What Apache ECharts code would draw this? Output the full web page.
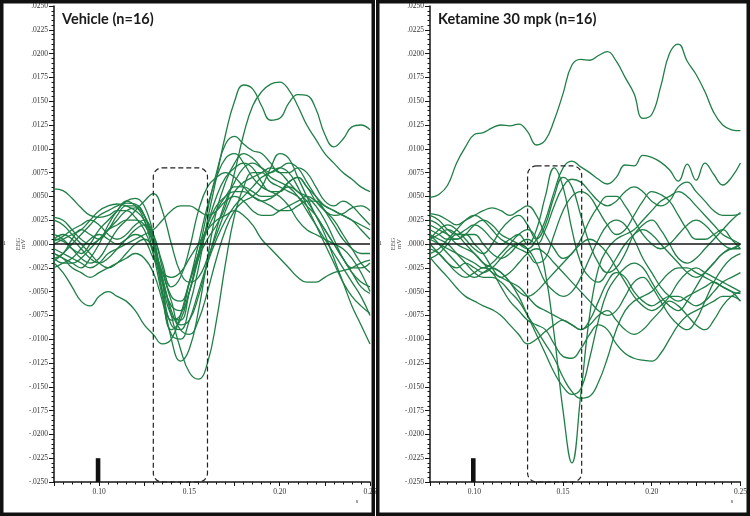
<!DOCTYPE html>
<html><head><meta charset="utf-8">
<script src="https://cdn.jsdelivr.net/npm/echarts@6/dist/echarts.min.js"></script>
<style>html,body{margin:0;padding:0;background:#fff;}#c{width:750px;height:516px;}</style>
</head><body><div id="c"></div>
<script>
// sample times (s)
const xs = [.075,.080,.085,.090,.095,.100,.105,.110,.115,.120,.125,.130,.135,.140,.145,.150,.155,.160,.165,.170,.175,.180,.185,.190,.195,.200,.205,.210,.215,.220,.225,.230,.235,.240,.245,.250];

// Vehicle (n=16) EEG traces (mV)
const vehicle = [
[-.0015,-.001,.0005,.0015,.001,.0005,.0015,.003,.004,.004,.003,0,-.005,-.0085,-.009,-.0065,-.0025,.0025,.007,.0115,.015,.0167,.0163,.0145,.013,.0132,.0148,.0157,.0156,.0142,.0115,.0102,.011,.0123,.0125,.012],
[.0005,.0003,-.0005,-.001,0,.0015,.0025,.0035,.0045,.004,.0025,-.001,-.0055,-.009,-.008,-.005,-.0015,.0005,.002,.004,.0075,.0115,.0145,.016,.0168,.017,.0162,.0145,.0125,.011,.0095,.0085,.0075,.0068,.006,.0055],
[.0028,.0025,.0015,.0005,0,.0005,.0015,.0025,.0035,.0038,.003,.0005,-.004,-.0075,-.008,-.005,-.001,.0035,.0075,.0105,.0113,.0105,.0098,.0095,.0085,.0075,.0075,.008,.0075,.006,.0045,.004,.0045,.004,.003,.002],
[.0058,.0056,.0048,.0038,.003,.0028,.003,.0035,.0035,.0028,.0015,-.001,-.004,-.0065,-.007,-.005,-.0015,.002,.005,.007,.008,.0085,.008,.0065,.0055,.0055,.0065,.007,.006,.0045,.0035,.003,.0032,.0038,.004,.0035],
[.001,.0005,-.0005,-.0015,-.002,-.0015,0,.0015,.0025,.0035,.0045,.0053,.0035,0,-.003,-.004,-.0035,-.0015,.001,.0035,.0055,.0065,.007,.0075,.008,.0075,.0065,.0055,.005,.004,.0025,.0005,-.0015,-.003,-.004,-.0045],
[-.002,-.003,-.0045,-.006,-.0065,-.0055,-.005,-.0055,-.006,-.007,-.0085,-.0095,-.0105,-.01,-.0075,-.004,-.001,.0015,.0035,.005,.006,.006,.0055,.005,.005,.0055,.006,.0055,.0045,.003,.001,-.0015,-.004,-.0065,-.0085,-.0105],
[0,.0005,.001,.0015,.0025,.0035,.004,.0042,.004,.0035,.0025,0,-.0035,-.0075,-.011,-.0135,-.0142,-.0125,-.008,-.002,.003,.006,.0075,.0075,.0065,.006,.0055,.005,.004,.003,.0015,0,-.0015,-.0025,-.0025,-.002],
[-.0018,-.001,0,.001,.002,.003,.0035,.004,.0043,.0042,.003,0,-.005,-.01,-.0123,-.011,-.007,-.0015,.0035,.0065,.0085,.0095,.009,.008,.007,.0065,.006,.005,.0035,.002,.0005,-.001,-.0025,-.004,-.0055,-.0075],
[-.001,-.0015,-.002,-.0025,-.0015,0,.002,.0035,.0045,.0048,.004,.001,-.004,-.008,-.0075,-.004,0,.004,.007,.009,.0095,.0085,.007,.006,.0055,.005,.004,.0025,.0015,.001,.0005,0,-.0005,-.0015,-.003,-.005],
[-.0025,-.002,-.0015,-.0005,.0005,.001,.0005,0,.0005,.001,.0005,-.0015,-.003,-.0035,-.003,-.0015,0,.0015,.0025,.003,.0035,.003,.002,.0005,-.0005,-.0015,-.0025,-.0035,-.004,-.004,-.0035,-.003,-.0028,-.0025,-.002,-.0017],
[.0003,.0008,.0015,.002,.0025,.002,.001,.0005,.001,.002,.0025,.001,-.002,-.0045,-.0035,-.0005,.0035,.006,.007,.0075,.007,.006,.005,.0045,.0048,.0055,.0065,.007,.006,.005,.004,.0035,.003,.0025,.002,.0015],
[-.0005,-.001,-.0015,-.002,-.0025,-.002,-.001,-.0005,0,.0005,.001,.0015,.0025,.0035,.004,.004,.0035,.003,.0035,.0045,.005,.0045,.0035,.003,.003,.0035,.004,.0045,.005,.0045,.0035,.0025,.001,-.0005,-.002,-.003],
[.0025,.002,.001,0,-.001,-.002,-.0025,-.002,-.001,0,.0005,-.0005,-.003,-.006,-.0085,-.008,-.0055,-.002,.0015,.0045,.0065,.008,.0085,.008,.0075,.008,.0085,.008,.0065,.005,.0035,.002,.0005,-.0005,-.001,-.001],
[-.001,-.0015,-.0025,-.003,-.0035,-.003,-.0025,-.002,-.0015,-.001,-.0015,-.003,-.006,-.0095,-.01,-.008,-.005,-.002,.0005,.0025,.004,.005,.006,.007,.0075,.008,.0075,.006,.004,.002,0,-.002,-.004,-.0055,-.0065,-.0073],
[-.0015,-.002,-.002,-.0015,-.0005,.0005,.0015,.002,.0025,.0025,.002,0,-.0035,-.007,-.009,-.0095,-.008,-.005,-.0015,.0015,.0035,.0045,.005,.006,.008,.0095,.009,.007,.005,.003,.0015,0,-.0015,-.003,-.0045,-.0052],
[.0005,.001,.0005,-.0005,-.0015,-.002,-.0015,-.0005,.0005,.0015,.002,.001,-.0025,-.0055,-.006,-.004,-.001,.002,.004,.005,.0055,.0055,.005,.0045,.004,.0035,.0035,.004,.0045,.0045,.004,.0035,.003,.0025,.0015,.0005]
];

// Ketamine 30 mpk (n=16) EEG traces (mV)
const ketamine = [
[.0049,.0052,.0062,.0085,.0102,.0115,.0117,.0122,.0125,.0124,.0126,.0118,.0104,.0109,.013,.0158,.0188,.0194,.0193,.0198,.0202,.0192,.0175,.0158,.0132,.0136,.0165,.02,.021,.0192,.0178,.016,.0138,.0125,.012,.0119],
[.002,.0015,.001,.0005,.001,.002,.0025,.002,.001,.0005,0,-.0005,.0005,.0025,.0055,.008,.0087,.0081,.0075,.0068,.0063,.007,.0083,.0082,.0093,.0091,.0086,.0078,.0066,.0084,.0067,.0085,.0073,.0062,.007,.0085],
[.0005,0,-.0005,-.001,-.0015,-.002,-.0025,-.002,-.001,0,.001,.0015,.0005,-.003,-.0095,-.0175,-.023,-.0158,-.0075,-.0025,-.0005,.0005,.001,.0015,.0025,.0035,.0045,.005,.0055,.005,.004,.003,.002,.001,.0005,0],
[-.0014,-.0025,-.0035,-.0046,-.0055,-.006,-.0065,-.0069,-.0075,-.0085,-.0095,-.0105,-.01,-.0092,-.0085,-.008,-.0085,-.009,-.008,-.006,-.004,-.003,-.0035,-.005,-.006,-.0065,-.006,-.0055,-.0055,-.006,-.0065,-.006,-.005,-.004,-.0035,-.003],
[.001,.0005,0,-.001,-.002,-.003,-.0035,-.0035,-.004,-.005,-.006,-.0075,-.009,-.0105,-.012,-.014,-.0155,-.0162,-.016,-.0145,-.012,-.009,-.007,-.006,-.0055,-.005,-.004,-.003,-.0025,-.0025,-.003,-.0035,-.004,-.0045,-.005,-.0052],
[.0005,.001,.0015,.001,0,-.001,-.002,-.0025,-.003,-.004,-.0055,-.0075,-.0095,-.0115,-.0135,-.015,-.0158,-.0152,-.012,-.008,-.005,-.0035,-.0025,-.002,-.0025,-.004,-.0055,-.0065,-.007,-.006,-.0045,-.003,-.002,-.001,-.0005,0],
[-.0005,-.001,-.002,-.003,-.0035,-.003,-.0025,-.003,-.0045,-.006,-.007,-.008,-.0085,-.009,-.0105,-.0118,-.012,-.011,-.0095,-.0085,-.009,-.0105,-.0115,-.012,-.0122,-.0123,-.0115,-.01,-.0085,-.0075,-.007,-.0065,-.006,-.0055,-.0055,-.006],
[.0025,.002,.001,0,-.0005,-.001,-.002,-.003,-.0035,-.004,-.0045,-.0055,-.0065,-.007,-.0075,-.008,-.0085,-.009,-.0085,-.0075,-.007,-.008,-.009,-.0095,-.009,-.008,-.007,-.006,-.0065,-.0075,-.0085,-.009,-.008,-.0065,-.0055,-.005],
[.003,.0025,.0015,.001,.0015,.002,.0015,.0005,0,.0005,.001,0,.0015,.005,.008,.006,.0015,-.002,-.0035,-.004,-.003,-.0015,0,.001,.0015,.001,0,-.001,-.002,-.003,-.0035,-.003,-.002,-.001,-.0005,-.0005],
[.0015,.001,.0005,.0005,.001,.001,0,-.001,-.0015,-.001,0,.0005,0,.0015,.004,.006,.0068,.0065,.0055,.0045,.004,.0045,.0055,.006,.0055,.0045,.004,.0045,.006,.0065,.0055,.0045,.0035,.003,.003,.0032],
[-.001,-.0005,.0005,.0015,.0025,.003,.0025,.0015,.0005,0,-.0005,-.001,-.002,-.0015,.001,.0035,.005,.0055,.005,.0035,.002,.001,.0015,.003,.0045,.0055,.0052,.0045,.003,.0015,.0005,.0005,.001,.0015,.0005,-.0005],
[.0032,.003,.0025,.002,.0025,.003,.0035,.0038,.0035,.003,.0035,.004,.003,.001,-.0005,-.0015,-.001,.0005,.0025,.004,.005,.005,.004,.0025,.001,0,-.0005,0,.001,.002,.0025,.002,.001,0,-.0005,0],
[0,-.001,-.002,-.0025,-.002,-.0025,-.003,-.0025,-.0015,-.0005,0,-.0005,-.002,-.004,-.005,-.0055,-.005,-.0035,-.0015,.0005,.002,.0025,.002,.0005,-.0015,-.003,-.0045,-.0055,-.006,-.0055,-.005,-.0045,-.004,-.0045,-.005,-.006],
[-.0015,-.001,0,.001,.001,0,-.001,-.0025,-.0035,-.003,-.002,-.001,-.0005,-.001,-.002,-.003,-.004,-.005,-.006,-.007,-.0075,-.007,-.0055,-.004,-.0035,-.0045,-.006,-.0075,-.0085,-.009,-.008,-.006,-.004,-.0025,-.0015,-.001],
[.0005,.0015,.002,.0015,.0005,-.0005,-.001,0,.0015,.0025,.003,.002,.0005,.002,.005,.007,.006,.003,0,-.002,-.003,-.0025,-.001,.001,.002,.0025,.0015,0,-.0015,-.002,-.0015,-.0005,.0005,.0015,.0025,.0033],
[.001,0,-.001,-.002,-.003,-.0035,-.003,-.0025,-.003,-.004,-.005,-.0055,-.005,-.004,-.003,-.002,-.001,0,.0005,0,-.001,-.0025,-.004,-.0055,-.0065,-.007,-.0065,-.0055,-.004,-.003,-.0025,-.003,-.0035,-.004,-.0045,-.005]
];

const titles = ['Vehicle (n=16)', 'Ketamine 30 mpk (n=16)'];
const xLabelValues = [0.10, 0.15, 0.20, 0.25];
const zeroLine = [[0.075, 0], [0.25, 0]];
// dashed analysis window: [xStart, xEnd, yBottom, yTop]
const windows = [[0.130, 0.160, -0.025, 0.0080], [0.130, 0.1605, -0.025, 0.0082]];
// stimulus marker: [x, yBottom, yTop]
const stimulus = [[0.0994, -0.025, -0.0225]];

const GREEN = '#1f7f46';
const INK = '#151515';
const lefts = [54, 430];

function fmtY(v) {
  const s = Math.abs(v).toFixed(4).replace(/^0/, '');
  return (v < -1e-9 ? '-' : '') + s;
}
function fmtX(v) {
  const ok = xLabelValues.some(t => Math.abs(t - v) < 1e-6);
  return ok ? v.toFixed(2) : '';
}

const grids = [], xAxes = [], yAxes = [], series = [], titleCfg = [];
[vehicle, ketamine].forEach((traces, g) => {
  grids.push({left: lefts[g], top: 6, width: 316, height: 476, containLabel: false});
  xAxes.push({
    gridIndex: g, type: 'value', min: 0.075, max: 0.25, interval: 0.025,
    axisLine: {show: true, onZero: false, lineStyle: {color: INK, width: 1.5}},
    axisTick: {show: true, length: 4, lineStyle: {color: INK, width: 1}},
    minorTick: {show: true, splitNumber: 5, length: 2.5, lineStyle: {color: INK, width: 1}},
    splitLine: {show: false},
    axisLabel: {formatter: fmtX, fontFamily: 'Liberation Serif', fontSize: 7.5, color: '#333', margin: 6}
  });
  yAxes.push({
    gridIndex: g, type: 'value', min: -0.025, max: 0.025, interval: 0.0025,
    axisLine: {show: true, onZero: false, lineStyle: {color: INK, width: 1.5}},
    axisTick: {show: true, length: 5, lineStyle: {color: INK, width: 1}},
    minorTick: {show: true, splitNumber: 5, length: 2.5, lineStyle: {color: INK, width: 1}},
    splitLine: {show: false},
    axisLabel: {formatter: fmtY, fontFamily: 'Liberation Serif', fontSize: 7.5, color: '#333', margin: 6}
  });
  traces.forEach(t => {
    series.push({
      type: 'line', xAxisIndex: g, yAxisIndex: g,
      data: xs.map((x, i) => [x, t[i]]),
      smooth: 0.45, symbol: 'none', silent: true, z: 3,
      lineStyle: {color: GREEN, width: 1.3}
    });
  });
  series.push({
    type: 'line', xAxisIndex: g, yAxisIndex: g, data: zeroLine,
    symbol: 'none', silent: true, z: 4, lineStyle: {color: INK, width: 1.4}
  });
  series.push({
    type: 'custom', xAxisIndex: g, yAxisIndex: g, data: [windows[g]], silent: true, z: 5, clip: false,
    renderItem: (params, api) => {
      const p1 = api.coord([api.value(0), api.value(3)]);
      const p2 = api.coord([api.value(1), api.value(2)]);
      return {type: 'rect', shape: {x: p1[0], y: p1[1], width: p2[0] - p1[0], height: p2[1] - p1[1], r: 9},
        style: {fill: 'none', stroke: '#222', lineWidth: 1.2, lineDash: [5, 3]}};
    }
  });
  series.push({
    type: 'custom', xAxisIndex: g, yAxisIndex: g, data: stimulus, silent: true, z: 5, clip: false,
    renderItem: (params, api) => {
      const top = api.coord([api.value(0), api.value(2)]);
      const bot = api.coord([api.value(0), api.value(1)]);
      return {type: 'rect', shape: {x: top[0] - 2.3, y: top[1], width: 4.6, height: bot[1] - top[1]},
        style: {fill: '#111'}};
    }
  });
  titleCfg.push({text: titles[g], left: lefts[g] + 8, top: 12, padding: 0,
    textStyle: {fontFamily: 'Lato', fontWeight: 'bold', fontSize: 14.5, color: '#1a1a1a'}});
});

const graphics = [];
[[0, 4.5, 18, 23.5, 357], [376, 380.5, 393, 399, 732]].forEach(([ox, one, eeg, mv, sx]) => {
  graphics.push({type: 'text', x: one, y: 243, z: 50, style: {text: '1', font: '6px "Liberation Serif"', fill: '#444', textAlign: 'center', textVerticalAlign: 'middle'}});
  graphics.push({type: 'text', x: eeg, y: 244, rotation: Math.PI / 2, z: 50, style: {text: 'EEG', font: '6.5px "Liberation Serif"', fill: '#444', textAlign: 'center', textVerticalAlign: 'middle'}});
  graphics.push({type: 'text', x: mv, y: 244, rotation: Math.PI / 2, z: 50, style: {text: 'mV', font: '6.5px "Liberation Serif"', fill: '#444', textAlign: 'center', textVerticalAlign: 'middle'}});
  graphics.push({type: 'text', x: sx, y: 501, z: 50, style: {text: 's', font: '6.5px "Liberation Serif"', fill: '#444', textAlign: 'center', textVerticalAlign: 'middle'}});
});
graphics.push({type: 'rect', z: 100, shape: {x: 1.75, y: 1.75, width: 371.5, height: 512.5}, style: {fill: 'none', stroke: '#111', lineWidth: 3.5}});
graphics.push({type: 'rect', z: 100, shape: {x: 377.75, y: 1.75, width: 370.5, height: 512.5}, style: {fill: 'none', stroke: '#111', lineWidth: 3.5}});

const chart = echarts.init(document.getElementById('c'));
chart.setOption({
  animation: false,
  backgroundColor: '#fff',
  title: titleCfg,
  grid: grids,
  xAxis: xAxes,
  yAxis: yAxes,
  series: series,
  graphic: graphics
});
</script>
</body></html>
